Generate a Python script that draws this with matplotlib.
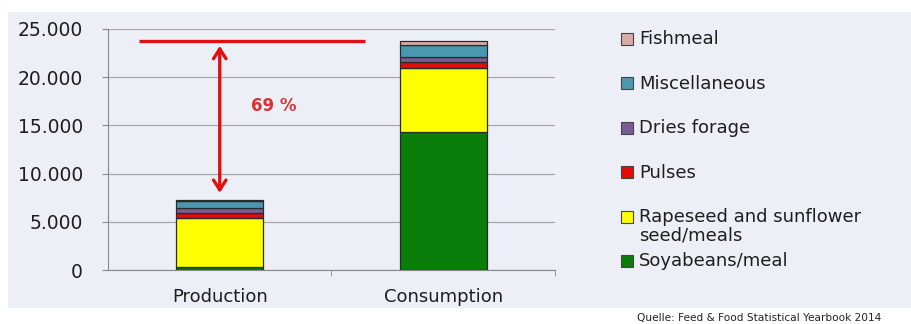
import matplotlib.pyplot as plt
import matplotlib.ticker as mticker
from matplotlib.patches import Rectangle
import numpy as np

plt.rcParams['font.family'] = ['DejaVu Sans']

# data (1000 t)
categories = ["Production", "Consumption"]
soy       = [300, 14300]
rapeseed  = [5050, 6700]
pulses    = [550, 600]
forage    = [500, 450]
misc      = [750, 1250]
fishmeal  = [150, 450]

series = [soy, rapeseed, pulses, forage, misc, fishmeal]
labels = ["Soyabeans/meal", "Rapeseed and sunflower\nseed/meals", "Pulses",
          "Dries forage", "Miscellaneous", "Fishmeal"]
colors = ["#0a7d0a", "#ffff00", "#e30b0b", "#7a5c94", "#4a98b0", "#d9aaaa"]
gap_label = "69 %"
source = "Quelle: Feed & Food Statistical Yearbook 2014"

W, H = 912, 324
bg = "#edeff6"
fig = plt.figure(figsize=(W / 100, H / 100), dpi=100)
fig.patch.set_facecolor("white")
fig.patches.append(Rectangle((8 / W, 1 - 308 / H), (W - 8) / W, 296 / H,
                             transform=fig.transFigure, facecolor=bg,
                             edgecolor="none", zorder=-5))

ax = fig.add_axes([108 / W, 1 - 270 / H, 447 / W, 241 / H])
ax.set_facecolor("none")
ax.set_zorder(2)

x = np.arange(len(categories))
bottom = np.zeros(len(categories))
for vals, col in zip(series, colors):
    ax.bar(x, vals, 0.39, bottom=bottom, color=col, edgecolor="#2a2a2a",
           linewidth=0.9, zorder=3)
    bottom += np.array(vals)

ax.set_xlim(-0.5, 1.5)
ax.set_ylim(0, 25000)
ax.set_yticks(np.arange(0, 25001, 5000))
ax.yaxis.set_major_formatter(mticker.FuncFormatter(lambda v, p: f"{v:,.0f}".replace(",", ".")))
ax.grid(axis="y", color="#a8a8a8", linewidth=0.9, zorder=1)
ax.set_xticks(x)
ax.set_xticklabels(categories)
ax.set_xticks([0.5, 1.5], minor=True)
ax.tick_params(axis="x", which="major", length=0, pad=13, labelsize=13, labelcolor="#1e1e1e")
ax.tick_params(axis="x", which="minor", length=4, color="#888888")
ax.tick_params(axis="y", length=4, pad=14, labelsize=13.5, labelcolor="#1e1e1e", color="#888888")
for s in ["top", "right"]:
    ax.spines[s].set_visible(False)
for s in ["left", "bottom"]:
    ax.spines[s].set_color("#888888")

# gap annotation
total = bottom
ax.plot([x[0] - 0.36, x[1] - 0.35], [total[1], total[1]], color="#e01010",
        lw=2.4, solid_capstyle="butt", zorder=4, clip_on=False)
ax.annotate("", xy=(x[0], total[0] + 700), xytext=(x[0], total[1] - 500),
            arrowprops=dict(arrowstyle="<->,head_length=0.7,head_width=0.45",
                            color="#e01010", lw=2.4, shrinkA=0, shrinkB=0), zorder=4)
ax.text(x[0] + 0.14, 17000, gap_label, color="#d83333", fontsize=12,
        fontweight="bold", va="center", ha="left")

# legend, top entry first
for i, (lab, col) in enumerate(zip(labels[::-1], colors[::-1])):
    yc = 39 + i * 44.4
    fig.patches.append(Rectangle((621 / W, 1 - (yc + 6) / H), 12 / W, 12 / H,
                                 transform=fig.transFigure, facecolor=col,
                                 edgecolor="#444444", linewidth=0.8, zorder=3))
    fig.text(639 / W, 1 - (yc - 8.5) / H, lab, fontsize=13, color="#1e1e1e",
             va="top", ha="left", linespacing=1.05)

fig.text(637 / W, 1 - 318 / H, source, fontsize=7.6, color="#222222",
         va="center", ha="left")

fig.savefig("out.png", dpi=100, facecolor="white")
